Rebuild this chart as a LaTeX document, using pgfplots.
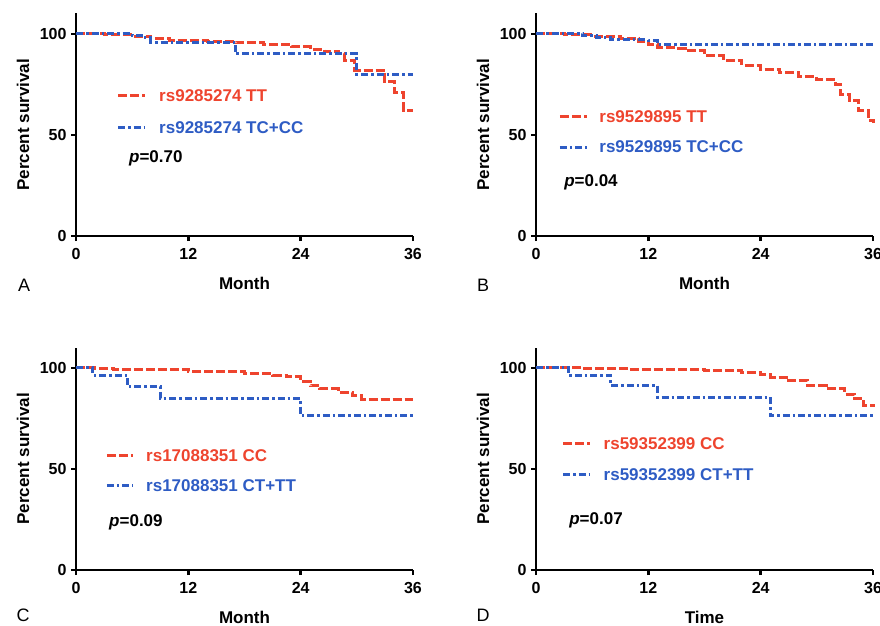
\documentclass[border=0pt]{standalone}
\usepackage{fontspec}
\setmainfont{Liberation Sans}
\usepackage{pgfplots}
\pgfplotsset{compat=1.18}

\definecolor{kmred}{RGB}{238,68,46}
\definecolor{kmblue}{RGB}{46,92,196}

\newcommand{\lblfont}{\bfseries\fontsize{17}{20}\selectfont}
\newcommand{\legfont}{\bfseries\fontsize{17}{20}\selectfont}

\tikzset{
  redl/.style={kmred, line width=3pt, dash pattern=on 9pt off 3pt},
  bluel/.style={kmblue, line width=3pt, dash pattern=on 7pt off 3pt on 2.5pt off 3pt},
}

\pgfplotsset{
  km/.style={
    scale only axis, width=337pt, height=222.5pt,
    xmin=0, xmax=36, ymin=0, ymax=110,
    axis lines=left, axis line style={-, line width=2.8pt},
    xtick={0,12,24,36}, ytick={0,50,100},
    tick align=outside, major tick length=5pt,
    tick style={line width=2.4pt, black},
    ticklabel style={font=\bfseries\fontsize{16}{18}\selectfont},
    xticklabel style={yshift=-4pt},
    yticklabel style={xshift=-1pt},
    /pgf/number format/assume math mode=true,
    ylabel={Percent survival},
    ylabel style={at={(axis description cs:-0.157,0.5)}, anchor=center, font=\lblfont},
    xlabel style={at={(axis description cs:0.5,-0.211)}, anchor=center, font=\lblfont},
    clip=false,
  },
}

\begin{document}
\begin{tikzpicture}
\useasboundingbox (0,0) rectangle (880pt,625pt);

% A
\begin{axis}[km, at={(76pt,389pt)}, anchor=south west, xlabel={Month}]
\addplot[redl, const plot] coordinates {(0,100)(3,99.5)(6,98.8)(8,97.5)(10,96.8)(14,96.3)(17,95.6)(20,94.8)(23,93.5)(25,92.4)(26.5,91)(28,90)(28.7,87)(29.8,82)(33,76.5)(34,71)(35,62)(36,62)};
\addplot[bluel, const plot] coordinates {(0,100)(6,99)(7,98)(8,95.8)(17,90)(30,80)(36,80)};
\draw[redl] (axis cs:4.49,69.5) -- (axis cs:7.37,69.5);
\node[anchor=west, inner sep=0pt, text=kmred, font=\legfont] at (axis cs:8.87,69.5) {rs9285274 TT};
\draw[bluel] (axis cs:4.49,53.7) -- (axis cs:7.37,53.7);
\node[anchor=west, inner sep=0pt, text=kmblue, font=\legfont] at (axis cs:8.87,53.7) {rs9285274 TC+CC};
\node[anchor=west, inner sep=0pt, font=\legfont] at (axis cs:5.66,38.4) {\textit{p}=0.70};
\node[font=\fontsize{18}{20}\selectfont] at (axis description cs:-0.154,-0.22) {A};
\end{axis}

% B
\begin{axis}[km, at={(536pt,389pt)}, anchor=south west, xlabel={Month}]
\addplot[redl, const plot] coordinates {(0,100)(3,99.5)(6,98.8)(9,97.5)(11,96)(12,94.8)(13,93.2)(15,92.5)(16,91.5)(18,89)(20,87)(22,84.5)(24,82.5)(26,80.8)(28,78.7)(30,77.2)(32,75)(32.5,70)(33.5,67)(34.5,62)(35.5,57)(36,56)};
\addplot[bluel, const plot] coordinates {(0,100)(5,99)(6.5,98)(8,97)(12,96.5)(13,94.5)(36,94.5)};
\draw[redl] (axis cs:2.56,59.1) -- (axis cs:5.45,59.1);
\node[anchor=west, inner sep=0pt, text=kmred, font=\legfont] at (axis cs:6.75,59.1) {rs9529895 TT};
\draw[bluel] (axis cs:2.56,44) -- (axis cs:5.45,44);
\node[anchor=west, inner sep=0pt, text=kmblue, font=\legfont] at (axis cs:6.75,44) {rs9529895 TC+CC};
\node[anchor=west, inner sep=0pt, font=\legfont] at (axis cs:3.0,26.6) {\textit{p}=0.04};
\node[font=\fontsize{18}{20}\selectfont] at (axis description cs:-0.157,-0.22) {B};
\end{axis}

% C
\begin{axis}[km, at={(76pt,55pt)}, anchor=south west, xlabel={Month}]
\addplot[redl, const plot] coordinates {(0,100)(2,99.5)(4,99)(12,98.2)(18,97)(21,96.3)(22.5,95.5)(24,93)(25,91)(26,89.6)(28,88)(29.5,86.3)(30.5,84.5)(36,84.5)};
\addplot[bluel, const plot] coordinates {(0,100)(1.8,96.2)(5.5,90.5)(9,84.7)(24,76.5)(36,76.5)};
\draw[redl] (axis cs:3.31,56.7) -- (axis cs:6.09,56.7);
\node[anchor=west, inner sep=0pt, text=kmred, font=\legfont] at (axis cs:7.48,56.7) {rs17088351 CC};
\draw[bluel] (axis cs:3.31,41.9) -- (axis cs:6.09,41.9);
\node[anchor=west, inner sep=0pt, text=kmblue, font=\legfont] at (axis cs:7.48,41.9) {rs17088351 CT+TT};
\node[anchor=west, inner sep=0pt, font=\legfont] at (axis cs:3.53,23.6) {\textit{p}=0.09};
\node[font=\fontsize{18}{20}\selectfont] at (axis description cs:-0.157,-0.202) {C};
\end{axis}

% D
\begin{axis}[km, at={(536pt,55pt)}, anchor=south west, xlabel={Time}]
\addplot[redl, const plot] coordinates {(0,100)(5,99.5)(10,99)(18,98.5)(22,97.5)(24,96.5)(25,95.4)(27,93.8)(29,91.3)(31,89.6)(33,87)(34,84.7)(35,81.4)(36,80.6)};
\addplot[bluel, const plot] coordinates {(0,100)(3.5,96.2)(8,91.3)(13,85.5)(25,76.5)(36,76.5)};
\draw[redl] (axis cs:2.89,62.6) -- (axis cs:5.79,62.6);
\node[anchor=west, inner sep=0pt, text=kmred, font=\legfont] at (axis cs:7.21,62.6) {rs59352399 CC};
\draw[bluel] (axis cs:2.89,47.3) -- (axis cs:5.79,47.3);
\node[anchor=west, inner sep=0pt, text=kmblue, font=\legfont] at (axis cs:7.21,47.3) {rs59352399 CT+TT};
\node[anchor=west, inner sep=0pt, font=\legfont] at (axis cs:3.54,24.6) {\textit{p}=0.07};
\node[font=\fontsize{18}{20}\selectfont] at (axis description cs:-0.157,-0.202) {D};
\end{axis}
\end{tikzpicture}
\end{document}
